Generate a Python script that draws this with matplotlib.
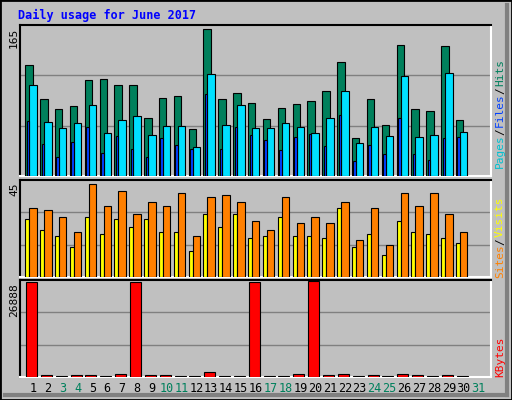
import numpy as np
import matplotlib
matplotlib.use('Agg')
import matplotlib.pyplot as plt
from matplotlib.patches import Rectangle

# data
days = list(range(1, 31))
hits = [121, 84, 73, 76, 105, 106, 99, 99, 63, 85, 87, 51, 161, 84, 91, 80, 62, 74, 79, 82,
        93, 125, 41, 84, 56, 143, 73, 71, 142, 61]
files = [99, 59, 52, 58, 78, 47, 61, 66, 45, 55, 55, 32, 111, 56, 78, 52, 52, 58, 54, 47,
         63, 93, 36, 54, 44, 109, 43, 45, 113, 48]
pages = [60, 35, 21, 37, 54, 25, 44, 30, 21, 41, 34, 29, 90, 30, 54, 45, 39, 28, 43, 46,
         33, 67, 16, 34, 24, 63, 24, 18, 41, 43]
visits = [32, 31, 28, 21, 43, 33, 40, 29, 35, 33, 39, 19, 37, 38, 35, 26, 22, 37, 25, 28,
          25, 35, 17, 32, 15, 39, 33, 39, 29, 21]
sites = [27, 22, 19, 14, 28, 20, 27, 23, 27, 21, 21, 12, 29, 23, 29, 18, 19, 28, 19, 19,
         18, 32, 14, 20, 10, 26, 21, 20, 18, 16]
kbytes = [26600, 590, 280, 590, 590, 280, 890, 26600, 590, 590, 280, 280, 1480, 280, 280, 26600,
          280, 280, 890, 26888, 590, 890, 280, 590, 280, 890, 590, 280, 590, 280]
weekend = [3, 4, 10, 11, 17, 18, 24, 25, 31]

W, H = 512, 400
fig = plt.figure(figsize=(W / 100, H / 100), dpi=100)
fig.patch.set_facecolor('#C0C0C0')
mono = 'DejaVu Sans Mono'

# bevelled border
fig.add_artist(Rectangle((0, 0), 1, 1, transform=fig.transFigure, fill=False, ec='black', lw=2))
fig.add_artist(plt.Line2D([5 / W, 1 - 5 / W], [5 / H, 5 / H], color='#808080', lw=3))
fig.add_artist(plt.Line2D([1 - 5 / W, 1 - 5 / W], [5 / H, 1 - 5 / H], color='#808080', lw=3))

fig.text(18 / W, 1 - 15 / H, 'Daily usage for June 2017', color='#0000FF', fontsize=8.5,
         fontweight='bold', family=mono, va='center')

def px_axes(x0, y0, x1, y1):
    ax = fig.add_axes([x0 / W, 1 - y1 / H, (x1 - x0) / W, (y1 - y0) / H])
    ax.set_facecolor('#C0C0C0')
    ax.set_xlim(0.125, 31.84)
    ax.set_xticks([])
    ax.set_yticks([])
    for s in ['left', 'top']:
        ax.spines[s].set_color('black')
    for s in ['right', 'bottom']:
        ax.spines[s].set_color('white')
    for s in ax.spines.values():
        s.set_linewidth(1.5)
    return ax

def bars(ax, lo, hi, vals, color):
    x = np.array(days)
    ax.bar(x + lo, vals, width=hi - lo, align='edge', color=color, ec='black', lw=0.8, zorder=3)

def grid(ax, top):
    for f in (1 / 3, 2 / 3):
        ax.axhline(top * f, color='#808080', lw=1, zorder=1)
    ax.set_ylim(0, top)

def side_label(y, parts):
    # parts: list of (text, color) stacked bottom-to-top
    yy = y
    for txt, col in parts:
        fig.text(500 / W, yy / H, txt, rotation=90, color=col, fontsize=8, family=mono,
                 ha='center', va='bottom')
        yy += len(txt) * 6.2 + 2

ax1 = px_axes(20, 25, 491, 176)
grid(ax1, 165)
bars(ax1, -0.52, -0.02, hits, '#00805C')
bars(ax1, -0.25, 0.25, files, '#00E0FF')
bars(ax1, -0.42, -0.25, pages, '#0040FF')
fig.text(14 / W, 1 - 28 / H, '165', rotation=90, fontsize=8, family=mono, ha='center', va='top')
side_label(400 - 168, [('Pages', '#00C0D0'), ('/', 'black'), ('Files', '#0040FF'), ('/', 'black'), ('Hits', '#00805C')])

ax2 = px_axes(20, 180, 491, 277)
grid(ax2, 45)
bars(ax2, -0.52, -0.25, sites, '#FFFF00')
bars(ax2, -0.25, 0.25, visits, '#FF8000')
fig.text(14 / W, 1 - 182 / H, '45', rotation=90, fontsize=8, family=mono, ha='center', va='top')
side_label(400 - 278, [('Sites', '#FF8000'), ('/', 'black'), ('Visits', '#FFFF00')])

ax3 = px_axes(20, 280, 491, 377)
grid(ax3, 26888 * 1.01)
bars(ax3, -0.47, 0.27, kbytes, '#FF0000')
fig.text(14 / W, 1 - 283 / H, '26888', rotation=90, fontsize=8, family=mono, ha='center', va='top')
side_label(400 - 377, [('KBytes', '#FF0000')])

for d in range(1, 32):
    xf = (20 + (d - 0.125) / 31.715 * 471) / W
    fig.text(xf, 1 - 389 / H, str(d), fontsize=8.5, family=mono, ha='center', va='center',
             color='#00805C' if d in weekend else 'black')

fig.savefig('out.png', dpi=100, facecolor=fig.get_facecolor())
